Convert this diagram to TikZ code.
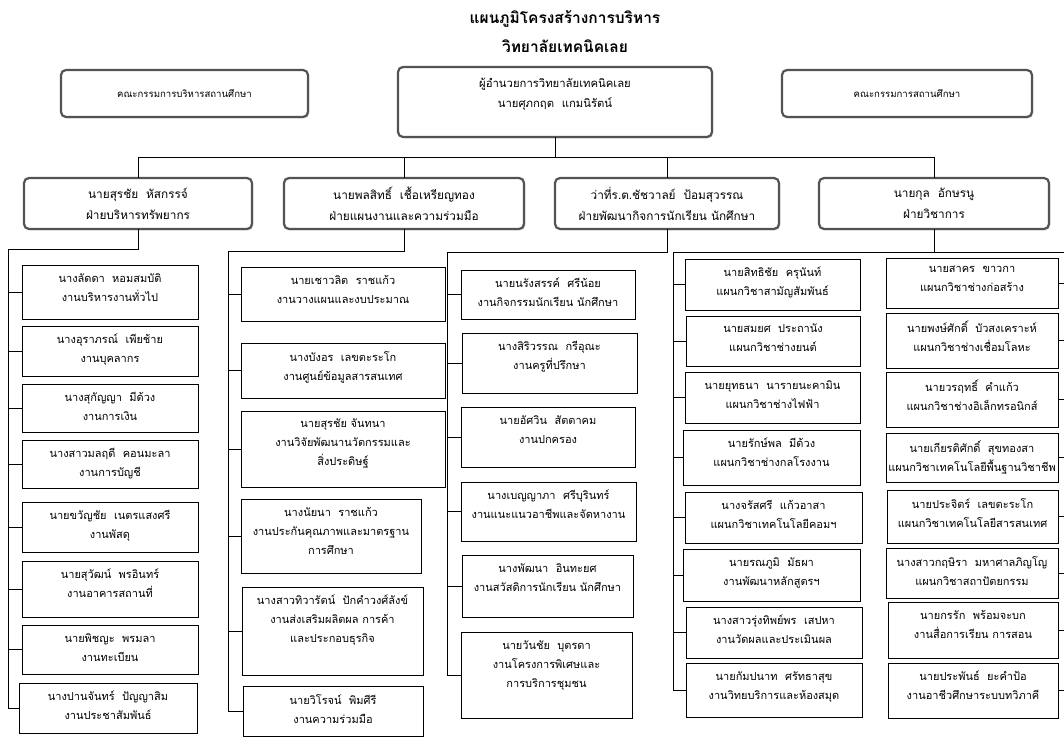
\documentclass[tikz,border=0pt]{standalone}
\usepackage{fontspec}
\newfontfamily\thai[Script=Thai]{Loma}
\usetikzlibrary{shadows}
\tikzset{
  headbox/.style={draw=gray!65!black, line width=2.2pt, rounded corners=5pt, fill=white,
    inner sep=0pt, outer sep=0pt,
    drop shadow={shadow xshift=1.4pt, shadow yshift=-1.4pt, fill=gray!50}},
  ibox/.style={draw=black, line width=0.8pt, fill=white, inner sep=0pt, outer sep=0pt, anchor=north west},
  itxt/.style={font=\thai\fontsize{11}{19}\selectfont, align=center, inner sep=0pt, anchor=north},
  htxt/.style={font=\thai\fontsize{11.8}{21}\selectfont, align=center, inner sep=0pt},
  ctxt/.style={font=\thai\fontsize{11.3}{20}\selectfont, align=center, inner sep=0pt},
  ttxt/.style={font=\thai\fontsize{9.6}{18}\selectfont, align=center, inner sep=0pt},
  titletxt/.style={font=\thai\bfseries\fontsize{15.5}{18}\selectfont, inner sep=0pt},
  conn/.style={draw=black, line width=0.8pt},
}
\newcommand\ibx[6]{%
  \node[ibox, minimum width={#4-#2}, minimum height={#5-#3}] (#1) at (#2,#3) {};
  \node[itxt] (#1t) at ([yshift=-8pt]#1.north) {#6};}
\begin{document}
\begin{tikzpicture}[x=1pt,y=-1pt]
\fill[white] (0,0) rectangle (1064,738);
\useasboundingbox (0,0) rectangle (1064,738);

% title
\node[titletxt] (title1) at (565,19) {แผนภูมิโครงสร้างการบริหาร};
\node[titletxt] (title2) at (565,46) {วิทยาลัยเทคนิคเลย};

% top row
\node[headbox, minimum width=247, minimum height=47] (topL) at (184.5,93.5) {};
\node[ttxt] (topLt) at (topL) {คณะกรรมการบริหารสถานศึกษา};
\node[headbox, minimum width=314, minimum height=70] (topC) at (555,102) {};
\node[ctxt] (topCt) at (555,94) {ผู้อำนวยการวิทยาลัยเทคนิคเลย\\นายศุภกฤต~~แกมนิรัตน์};
\node[headbox, minimum width=250, minimum height=47] (topR) at (907,93.5) {};
\node[ttxt] (topRt) at (topR) {คณะกรรมการสถานศึกษา};

% heads
\node[headbox, minimum width=228, minimum height=51] (h1) at (138,203.5) {};
\node[htxt] (h1t) at (h1) {นายสุรชัย~~หัสกรรจ์\\ฝ่ายบริหารทรัพยากร};
\node[headbox, minimum width=240, minimum height=51] (h2) at (404,203.5) {};
\node[htxt] (h2t) at (h2) {นายพลสิทธิ์~~เชื้อเหรียญทอง\\ฝ่ายแผนงานและความร่วมมือ};
\node[headbox, minimum width=224, minimum height=51] (h3) at (667,203.5) {};
\node[htxt] (h3t) at (h3) {ว่าที่ร.ต.ชัชวาลย์~~ป้อมสุวรรณ\\ฝ่ายพัฒนากิจการนักเรียน นักศึกษา};
\node[headbox, minimum width=230, minimum height=51] (h4) at (934,203.5) {};
\node[htxt] (h4t) at (h4) {นายกุล~~อักษรนู\\ฝ่ายวิชาการ};

% column 1
\ibx{c1b1}{22}{265}{198}{319}{นางลัดดา~~หอมสมบัติ\\งานบริหารงานทั่วไป}
\ibx{c1b2}{22}{326}{198}{376}{นางอุราภรณ์~~เพียช้าย\\งานบุคลากร}
\ibx{c1b3}{22}{384}{198}{432}{นางสุกัญญา~~มีด้วง\\งานการเงิน}
\ibx{c1b4}{22}{440}{198}{488}{นางสาวมลฤดี~~คอนมะลา\\งานการบัญชี}
\ibx{c1b5}{22}{502}{198}{552}{นายขวัญชัย~~เนตรแสงศรี\\งานพัสดุ}
\ibx{c1b6}{22}{561}{198}{617}{นายสุวัฒน์~~พรอินทร์\\งานอาคารสถานที่}
\ibx{c1b7}{22}{625}{198}{674}{นายพิชญะ~~พรมลา\\งานทะเบียน}
\ibx{c1b8}{19}{683}{197}{733}{นางปานจันทร์~~ปัญญาสิม\\งานประชาสัมพันธ์}

% column 2
\ibx{c2b1}{241}{267}{445}{321}{นายเชาวลิต~~ราชแก้ว\\งานวางแผนและงบประมาณ}
\ibx{c2b2}{241}{343}{445}{398}{นางบังอร~~เลขตะระโก\\งานศูนย์ข้อมูลสารสนเทศ}
\ibx{c2b3}{241}{411}{445}{487}{นายสุรชัย จันทนา\\งานวิจัยพัฒนานวัตกรรมและ\\สิ่งประดิษฐ์}
\ibx{c2b4}{241}{499}{421}{573}{นางนัยนา~~ราชแก้ว\\งานประกันคุณภาพและมาตรฐาน\\การศึกษา}
\ibx{c2b5}{242}{587}{423}{675}{นางสาวทิวารัตน์~~ปักคำวงศ์ลังข์\\งานส่งเสริมผลิตผล การค้า\\และประกอบธุรกิจ}
\ibx{c2b6}{243}{686}{423}{736}{นายวิโรจน์~~พิมศีรี\\งานความร่วมมือ}

% column 3
\ibx{c3b1}{461}{270}{635}{319}{นายนรังสรรค์~~ศรีน้อย\\งานกิจกรรมนักเรียน นักศึกษา}
\ibx{c3b2}{462}{333}{637}{393}{นางสิริวรรณ~~กรีอุณะ\\งานครูที่ปรึกษา}
\ibx{c3b3}{461}{407}{635}{467}{นายอัศวิน~~สัตตาคม\\งานปกครอง}
\ibx{c3b4}{461}{482}{636}{541}{นางเบญญาภา~~ศรีบุรินทร์\\งานแนะแนวอาชีพและจัดหางาน}
\ibx{c3b5}{462}{555}{633}{617}{นางพัฒนา~~อินทะยศ\\งานสวัสดิการนักเรียน นักศึกษา}
\ibx{c3b6}{461}{632}{632}{718}{นายวันชัย~~บุตรดา\\งานโครงการพิเศษและ\\การบริการชุมชน}

% column 4
\ibx{c4b1}{685}{259}{860}{310}{นายสิทธิชัย~~ครุนันท์\\แผนกวิชาสามัญสัมพันธ์}
\ibx{c4b2}{686}{316}{860}{366}{นายสมยศ~~ประถานัง\\แผนกวิชาช่างยนต์}
\ibx{c4b3}{685}{372}{860}{423}{นายยุทธนา~~นารายนะคามิน\\แผนกวิชาช่างไฟฟ้า}
\ibx{c4b4}{683}{430}{860}{485}{นายรักษ์พล~~มีด้วง\\แผนกวิชาช่างกลโรงงาน}
\ibx{c4b5}{685}{492}{862}{543}{นางจรัสศรี~~แก้วอาสา\\แผนกวิชาเทคโนโลยีคอมฯ}
\ibx{c4b6}{683}{549}{860}{601}{นายรณภูมิ~~มัธผา\\งานพัฒนาหลักสูตรฯ}
\ibx{c4b7}{686}{607}{862}{658}{นางสาวรุ่งทิพย์พร~~เสปหา\\งานวัดผลและประเมินผล}
\ibx{c4b8}{686}{663}{862}{717}{นายกัมปนาท~~ศรัทธาสุข\\งานวิทยบริการและห้องสมุด}

% column 5
\ibx{c5b1}{886}{258}{1058}{308}{นายสาคร~~ขาวกา\\แผนกวิชาช่างก่อสร้าง}
\ibx{c5b2}{886}{313}{1058}{368}{นายพงษ์ศักดิ์~~บัวสงเคราะห์\\แผนกวิชาช่างเชื่อมโลหะ}
\ibx{c5b3}{886}{372}{1058}{427}{นายวรฤทธิ์~~คำแก้ว\\แผนกวิชาช่างอิเล็กทรอนิกส์}
\ibx{c5b4}{886}{433}{1058}{482}{นายเกียรติศักดิ์~~สุขทองสา\\แผนกวิชาเทคโนโลยีพื้นฐานวิชาชีพ}
\ibx{c5b5}{887}{490}{1058}{543}{นายประจิตร์~~เลขตะระโก\\แผนกวิชาเทคโนโลยีสารสนเทศ}
\ibx{c5b6}{886}{548}{1058}{598}{นางสาวกฤษิรา~~มหาศาลภิญโญ\\แผนกวิชาสถาปัตยกรรม}
\ibx{c5b7}{888}{602}{1058}{658}{นายกรรัก~~พร้อมจะบก\\งานสื่อการเรียน การสอน}
\ibx{c5b8}{888}{663}{1058}{718}{นายประพันธ์~~ยะคำป้อ\\งานอาชีวศึกษาระบบทวิภาคี}

% connectors
\coordinate (bus) at (0,157);
\coordinate (s1) at (8,249);
\coordinate (s2) at (228,251);
\coordinate (s3) at (447,252);
\coordinate (s4) at (673,252);
\coordinate (s5) at (1064,252);

\draw[conn] (topC.south) -- (topC.south |- bus);
\draw[conn] (h1.north) |- (h4.north |- bus) -- (h4.north);
\draw[conn] (h2.north) -- (h2.north |- bus);
\draw[conn] (h3.north) -- (h3.north |- bus);

\draw[conn] (h1.south) |- (s1) |- (c1b8.west);
\foreach \k in {1,...,7} \draw[conn] (c1b\k.west) -- (c1b\k.west -| s1);

\draw[conn] (h2.south) |- (s2) |- (c2b6.west);
\foreach \k in {1,...,5} \draw[conn] (c2b\k.west) -- (c2b\k.west -| s2);

\draw[conn] (h3.south) |- (s3) |- (c3b6.west);
\foreach \k in {1,...,5} \draw[conn] (c3b\k.west) -- (c3b\k.west -| s3);

\draw[conn] (h4.south) -- (h4.south |- s4);
\draw[conn] (s4) -- (s5);
\draw[conn] (s4) |- (c4b8.west);
\foreach \k in {1,...,7} \draw[conn] (c4b\k.west) -- (c4b\k.west -| s4);
\foreach \k in {1,...,8} \draw[conn] (c5b\k.east) -- (c5b\k.east -| s5);
\end{tikzpicture}
\end{document}
